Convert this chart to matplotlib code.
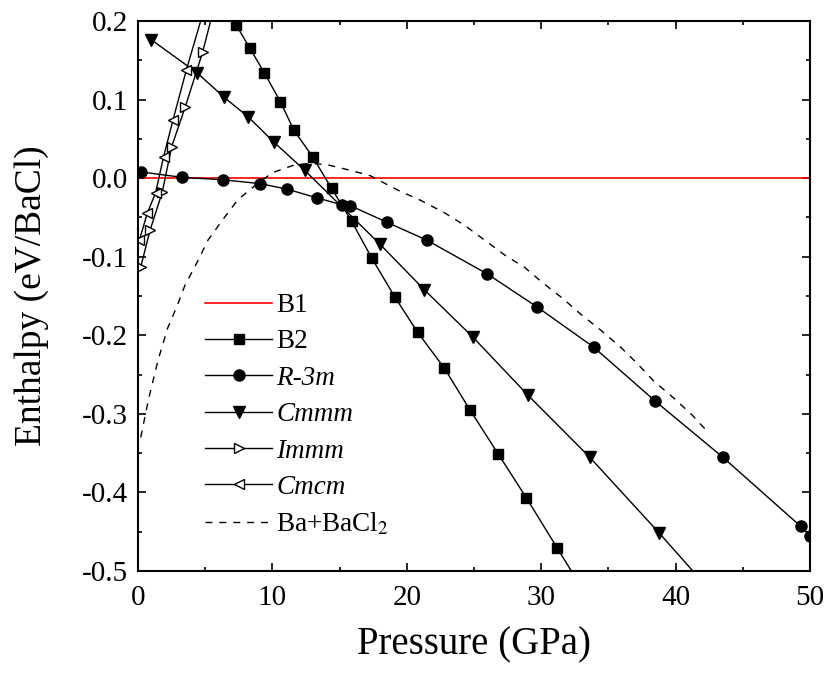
import numpy as np
import matplotlib.pyplot as plt

plt.rcParams['font.family'] = 'Liberation Serif'
plt.rcParams['mathtext.fontset'] = 'stix'
plt.rcParams['axes.unicode_minus'] = False

# B1 reference
b1_p = [0, 50]
b1_h = [0, 0]

# B2
b2_p = [6.4, 7.3, 8.3, 9.4, 10.6, 11.6, 13.0, 14.4, 15.9, 17.4, 19.1, 20.8, 22.8, 24.7, 26.8, 28.9, 31.2, 32.6]
b2_h = [0.25, 0.195, 0.166, 0.134, 0.097, 0.061, 0.027, -0.013, -0.055, -0.102, -0.151, -0.196,
        -0.242, -0.295, -0.351, -0.407, -0.471, -0.51]

# R-3m
r3m_p = [0.2, 3.3, 6.3, 9.1, 11.1, 13.3, 15.2, 15.8, 18.5, 21.5, 26.0, 29.7, 33.9, 38.5, 43.5, 49.3, 50.0]
r3m_h = [0.008, 0.001, -0.002, -0.007, -0.014, -0.025, -0.034, -0.035, -0.056, -0.079, -0.122,
         -0.164, -0.215, -0.284, -0.355, -0.443, -0.455]

# Cmmm
cmmm_p = [1.0, 4.4, 6.4, 8.2, 10.1, 12.4, 18.0, 21.3, 24.9, 29.0, 33.6, 38.8, 41.8]
cmmm_h = [0.176, 0.134, 0.103, 0.078, 0.046, 0.010, -0.084, -0.142, -0.202, -0.276, -0.355, -0.452, -0.51]

# Immm
immm_p = [0.2, 0.9, 1.8, 2.5, 3.5, 4.8, 5.7]
immm_h = [-0.113, -0.066, -0.018, 0.040, 0.090, 0.160, 0.22]

# Cmcm
cmcm_p = [0.1, 0.7, 1.3, 1.9, 2.6, 3.6, 5.0]
cmcm_h = [-0.079, -0.044, -0.019, 0.027, 0.074, 0.138, 0.22]

# Ba + BaCl2
ba_p = [0.2, 0.8, 1.5, 2.2, 2.9, 3.5, 4.4, 5.2, 6.3, 7.4, 8.8, 10.0, 11.5, 12.8, 14.1, 15.8, 17.3,
        19.3, 21.0, 22.8, 24.3, 25.8, 27.3, 28.8, 30.1, 31.6, 33.0, 34.4, 35.9, 37.1, 38.3, 39.8,
        41.2, 42.4]
ba_h = [-0.33, -0.28, -0.231, -0.191, -0.163, -0.136, -0.107, -0.079, -0.053, -0.028, -0.008,
        0.007, 0.016, 0.019, 0.017, 0.010, 0.003, -0.015, -0.028, -0.044, -0.060, -0.079, -0.098,
        -0.114, -0.133, -0.153, -0.174, -0.193, -0.215, -0.235, -0.257, -0.279, -0.301, -0.323]

yticklabels = ['-0.5', '-0.4', '-0.3', '-0.2', '-0.1', '0.0', '0.1', '0.2']

fig = plt.figure(figsize=(8.3, 6.74), dpi=100)
ax = fig.add_axes([0.1663, 0.1528, 0.8096, 0.816])

lw = 1.0
ax.plot(b1_p, b1_h, color='red', lw=1.2, label='B1')
ax.plot(b2_p, b2_h, color='black', lw=lw, marker='s', ms=7.5, label='B2')
ax.plot(r3m_p, r3m_h, color='black', lw=lw, marker='o', ms=8, label='R-3m')
ax.plot(cmmm_p, cmmm_h, color='black', lw=lw, marker='v', ms=8.5, label='Cmmm')
ax.plot(immm_p, immm_h, color='black', lw=lw, marker='>', ms=7.5, mfc='white', label='Immm')
ax.plot(cmcm_p, cmcm_h, color='black', lw=lw, marker='<', ms=7.5, mfc='white', label='Cmcm')
ax.plot(ba_p, ba_h, color='black', lw=lw, ls=(0, (5, 5)), label='Ba+BaCl$_2$')

ax.set_xlim(0, 50)
ax.set_ylim(-0.5, 0.2)
ax.set_xticks(np.arange(0, 51, 10))
ax.set_xticks(np.arange(0, 51, 5), minor=True)
ax.set_yticks(np.arange(-0.5, 0.21, 0.1))
ax.set_yticks(np.arange(-0.5, 0.21, 0.05), minor=True)
ax.set_yticklabels(yticklabels)
ax.tick_params(which='both', direction='in', top=True, right=True, labelsize=21, width=1.2)
ax.tick_params(which='major', length=6)
ax.tick_params(which='minor', length=3)
ax.tick_params(axis='x', pad=10)
ax.tick_params(axis='y', pad=7)
for s in ax.spines.values():
    s.set_linewidth(1.5)

ax.set_xlabel('Pressure (GPa)', fontsize=28, labelpad=11)
ax.set_ylabel('Enthalpy (eV/BaCl)', fontsize=27, labelpad=24)

leg = ax.legend(loc='upper left', bbox_to_anchor=(0.075, 0.535), frameon=False, fontsize=19.5,
                handlelength=2.5, handletextpad=0.15, labelspacing=0.42, borderaxespad=0.2)
for t in leg.get_texts()[2:6]:
    t.set_fontstyle('italic')

fig.savefig('out.png', dpi=100)
